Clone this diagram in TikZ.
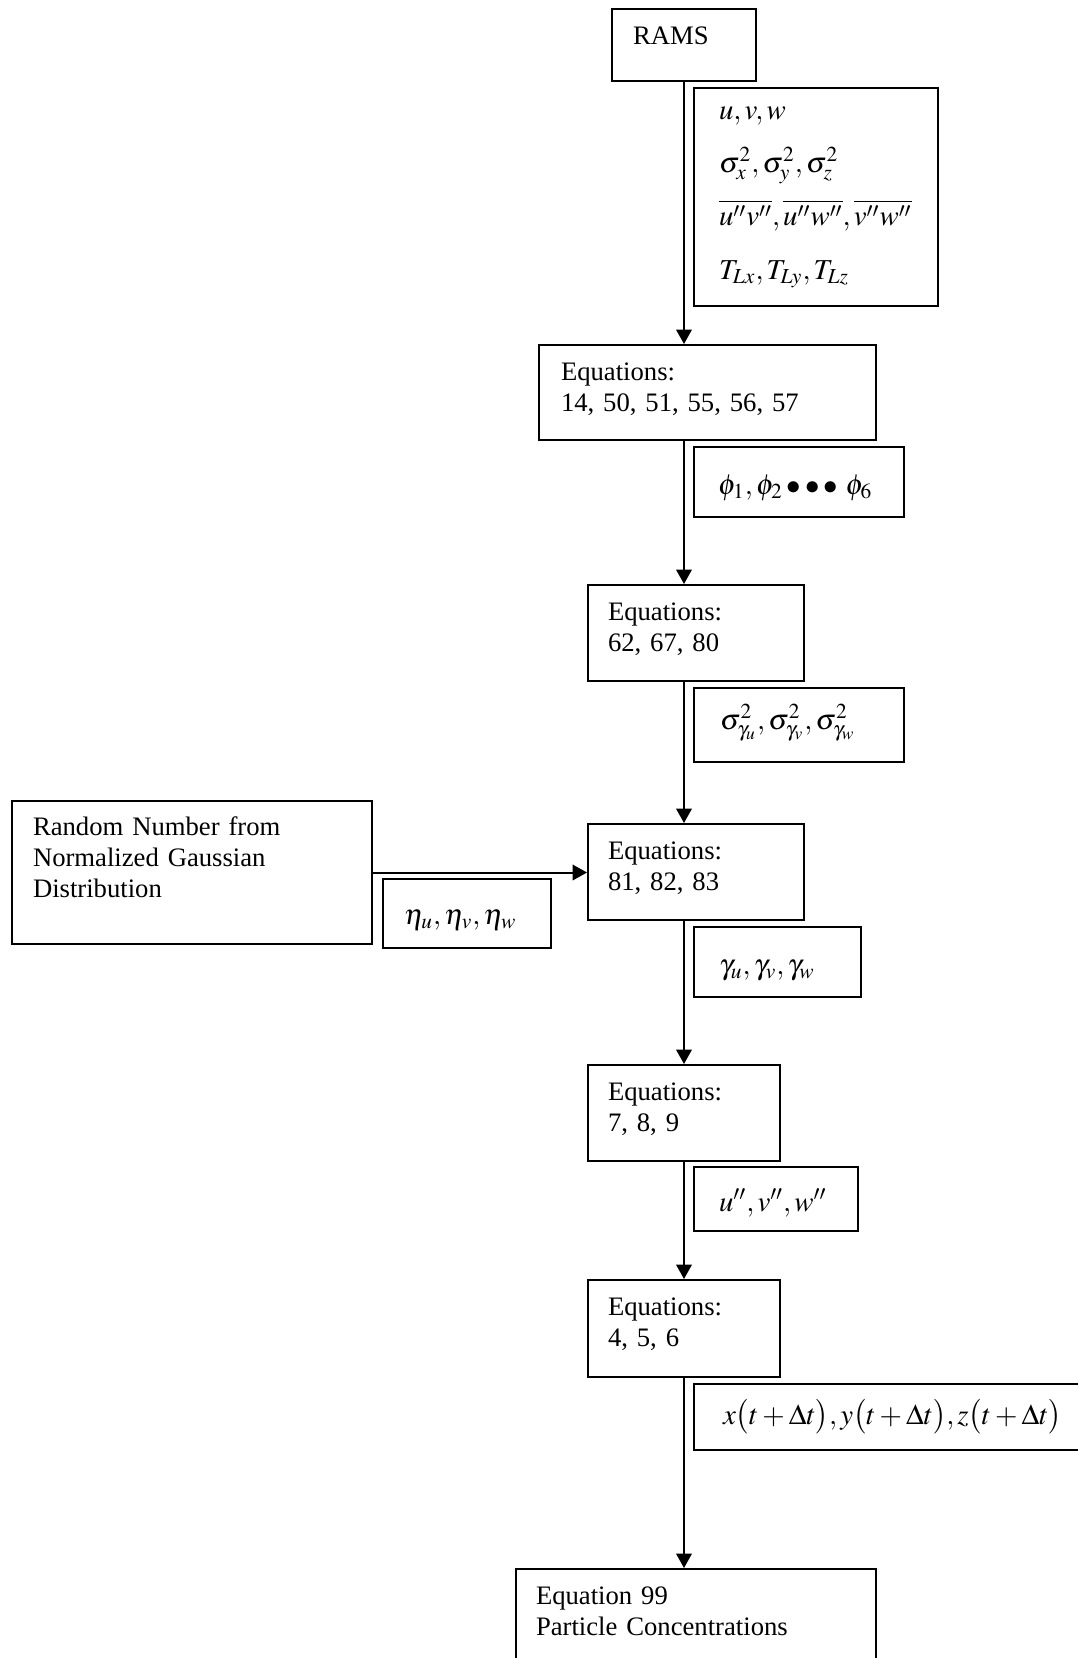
\documentclass[tikz,border=0pt]{standalone}
\usepackage{mathptmx}
\usepackage{fontspec}
\setmainfont{Liberation Serif}
\usepackage{tikz}
\usetikzlibrary{arrows.meta,positioning}
\newcommand{\px}{0.45pt}

\begin{document}
\begin{tikzpicture}[
  x=0.45pt, y=-0.45pt,
  blk/.style n args={4}{rectangle, draw=black, line width=0.9pt,
    anchor=north west, inner ysep=0pt, inner xsep=#4*\px,
    text width=(#1-2*#4)*\px, text height=#3*\px, text depth=(#2-#3)*\px,
    align=left},
  eqn/.style n args={4}{blk={#1}{#2}{#3}{#4}, font=\fontsize{12}{14}\selectfont},
  var/.style n args={4}{blk={#1}{#2}{#3}{#4}, font=\fontsize{13}{24}\selectfont},
  flow/.style={-{Triangle[length=6.5pt,width=7pt]}, line width=0.9pt}
]
\useasboundingbox (0,0) rectangle (1078,1658);

%─── MAIN CHAIN ──────────────────────────────────────────────────────────────
\node[eqn={144}{72}{35}{21}]  (rams) at (611,8)    {RAMS};
\node[eqn={337}{95}{35}{22}]  (eqA)  at (538,344)  {Equations:\\14, 50, 51, 55, 56, 57};
\node[eqn={216}{96}{35}{20}]  (eqB)  at (587,584)  {Equations:\\62, 67, 80};
\node[eqn={216}{96}{35}{20}]  (eqC)  at (587,823)  {Equations:\\81, 82, 83};
\node[eqn={192}{96}{35}{20}]  (eqD)  at (587,1064) {Equations:\\7, 8, 9};
\node[eqn={192}{97}{35}{20}]  (eqE)  at (587,1279) {Equations:\\4, 5, 6};
\node[eqn={360}{110}{35}{20}] (conc) at (515,1568) {Equation 99\\Particle Concentrations};

\node[eqn={360}{143}{34}{21}] (rand) at (11,800)
  {Random Number from\\Normalized Gaussian\\Distribution};

%─── VARIABLE BOXES ──────────────────────────────────────────────────────────
\node[var={244}{218}{31}{25}] (vals) at (693,87) {%
  $u,v,w$\\
  $\sigma_x^2,\sigma_y^2,\sigma_z^2$\\
  $\overline{u''v''},\overline{u''w''},\overline{v''w''}$\\
  $T_{Lx},T_{Ly},T_{Lz}$};
\node[var={210}{70}{47}{24}]  (phis) at (693,446)  {$\phi_1,\phi_2 \bullet\bullet\bullet\,\phi_6$};
\node[var={210}{74}{41}{26}]  (sigs) at (693,687)
  {$\sigma^2_{\gamma_u},\sigma^2_{\gamma_v},\sigma^2_{\gamma_w}$};
\node[var={168}{69}{45}{21}]  (etas) at (382,878)  {$\eta_u,\eta_v,\eta_w$};
\node[var={167}{70}{47}{25}]  (gams) at (693,926)  {$\gamma_u,\gamma_v,\gamma_w$};
\node[var={164}{64}{44}{25}]  (vels) at (693,1166) {$u'',v'',w''$};
\node[var={400}{66}{40}{29}]  (poss) at (693,1383)
  {$x\bigl(t+\Delta t\bigr), y\bigl(t+\Delta t\bigr), z\bigl(t+\Delta t\bigr)$};

%─── ARROWS ──────────────────────────────────────────────────────────────────
\draw[flow] (rams.south) -- (rams.south |- eqA.north);
\draw[flow] (eqA.south -| rams) -- (eqB.north -| rams);
\draw[flow] (eqB.south -| rams) -- (eqC.north -| rams);
\draw[flow] (rand.east) -- (rand.east -| eqC.west);
\draw[flow] (eqC.south -| rams) -- (eqD.north -| rams);
\draw[flow] (eqD.south -| rams) -- (eqE.north -| rams);
\draw[flow] (eqE.south -| rams) -- (conc.north -| rams);

\end{tikzpicture}
\end{document}
